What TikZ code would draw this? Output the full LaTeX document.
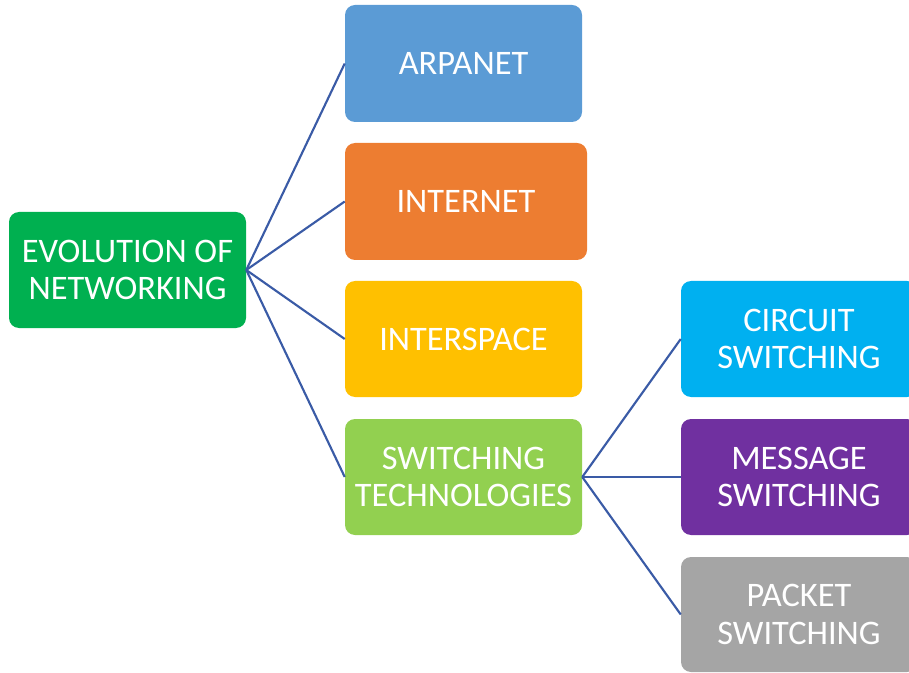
\documentclass[tikz,border=0pt]{standalone}
\usepackage{fontspec}
\setmainfont{Carlito}
\definecolor{cRoot}{HTML}{00B050}
\definecolor{cArpa}{HTML}{5B9BD5}
\definecolor{cInet}{HTML}{ED7D31}
\definecolor{cIspace}{HTML}{FFC000}
\definecolor{cSwitch}{HTML}{92D050}
\definecolor{cCircuit}{HTML}{00B0F0}
\definecolor{cMessage}{HTML}{7030A0}
\definecolor{cPacket}{HTML}{A5A5A5}
\definecolor{cLine}{HTML}{3A5BA6}
\tikzset{
  box/.style={rectangle, rounded corners=7.5pt, inner sep=0pt, align=center,
    text=white, font=\fontsize{25.8}{28}\selectfont,
    minimum width=177.75pt, minimum height=87pt},
  link/.style={draw=cLine, line width=1.6pt}
}
\begin{document}
\begin{tikzpicture}[x=0.75pt,y=-0.75pt]
\useasboundingbox (0,0) rectangle (909,673);
\clip (0,0) rectangle (909,673);
\node[box, fill=cRoot] (root) at (127.5,270) {EVOLUTION OF\\NETWORKING};
\node[box, fill=cArpa, minimum height=87.75pt] (arpa) at (463.5,63.5) {ARPANET};
\node[box, fill=cInet, minimum width=181.5pt, minimum height=87.75pt] (inet) at (466,201.5) {INTERNET};
\node[box, fill=cIspace] (ispace) at (463.5,339) {INTERSPACE};
\node[box, fill=cSwitch] (switch) at (463.5,477) {SWITCHING\\TECHNOLOGIES};
\node[box, fill=cCircuit, minimum width=177pt] (circuit) at (799,339) {CIRCUIT\\SWITCHING};
\node[box, fill=cMessage, minimum width=177pt] (message) at (799,477) {MESSAGE\\SWITCHING};
\node[box, fill=cPacket, minimum width=177pt, minimum height=86.25pt] (packet) at (799,614.5) {PACKET\\SWITCHING};
\draw[link] (root.east) -- (arpa.west);
\draw[link] (root.east) -- (inet.west);
\draw[link] (root.east) -- (ispace.west);
\draw[link] (root.east) -- (switch.west);
\draw[link] (switch.east) -- (circuit.west);
\draw[link] (switch.east) -- (message.west);
\draw[link] (switch.east) -- (packet.west);
\end{tikzpicture}
\end{document}
